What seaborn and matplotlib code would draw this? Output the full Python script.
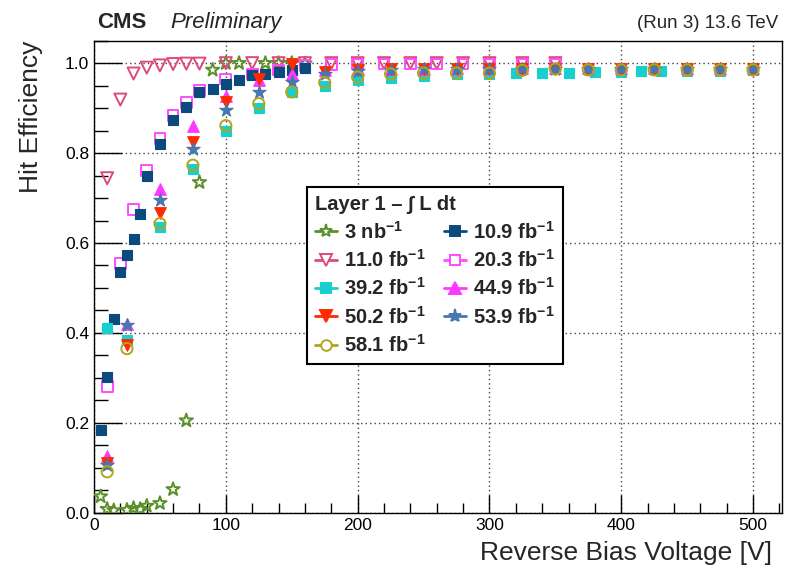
import numpy as np
import pandas as pd
import matplotlib
matplotlib.use("Agg")
import matplotlib.pyplot as plt
from matplotlib.lines import Line2D
from matplotlib.ticker import MultipleLocator, FormatStrFormatter
import seaborn as sns

# ---------------- data ----------------
v_3nb = [5, 10, 15, 25, 30, 35, 40, 50, 60, 70, 80, 90, 100, 110, 130, 140, 150, 160]
e_3nb = [0.036, 0.008, 0.005, 0.006, 0.010, 0.008, 0.015, 0.021, 0.052, 0.205, 0.735,
         0.985, 1.0, 1.0, 1.0, 1.0, 1.0, 0.999]

v_109 = [5, 10, 15, 20, 25, 30, 35, 40, 50, 60, 70, 80, 90, 100, 110, 120, 130, 140, 150, 160]
e_109 = [0.184, 0.302, 0.430, 0.536, 0.573, 0.608, 0.665, 0.750, 0.820, 0.873, 0.902,
         0.936, 0.943, 0.954, 0.963, 0.973, 0.976, 0.980, 0.985, 0.990]

v_110 = [10, 20, 30, 40, 50, 60, 70, 80, 100, 120, 140, 160, 180, 200, 220, 240, 260,
         280, 300, 325, 350]
e_110 = [0.744, 0.919, 0.977, 0.990, 0.995, 0.998, 0.999, 0.999, 1.0, 1.0, 1.0, 1.0,
         1.0, 1.0, 1.0, 1.0, 1.0, 1.0, 1.0, 1.0, 1.0]

v_203 = [10, 20, 30, 40, 50, 60, 70, 80, 100, 120, 140, 160, 180, 200, 220, 240, 260,
         280, 300, 325, 350]
e_203 = [0.280, 0.554, 0.675, 0.761, 0.832, 0.884, 0.913, 0.939, 0.965, 0.976, 0.985,
         0.995, 0.997, 0.998, 0.998, 0.998, 0.998, 0.998, 0.998, 0.998, 0.998]

v_392 = [10, 25, 50, 75, 100, 125, 150, 175, 200, 225, 250, 275, 300, 320, 340, 360,
         380, 400, 415, 430, 450, 475, 500]
e_392 = [0.410, 0.384, 0.635, 0.765, 0.850, 0.900, 0.935, 0.950, 0.963, 0.968, 0.972,
         0.975, 0.977, 0.979, 0.979, 0.979, 0.980, 0.981, 0.982, 0.982, 0.983, 0.983, 0.984]

v_std = [10, 25, 50, 75, 100, 125, 150, 175, 200, 225, 250, 275, 300, 325, 350, 375,
         400, 425, 450, 475, 500]
e_449 = [0.126, 0.420, 0.720, 0.861, 0.928, 0.962, 0.976, 0.985, 0.988, 0.988, 0.988,
         0.989, 0.989, 0.989, 0.989, 0.989, 0.990, 0.990, 0.990, 0.990, 0.990]
e_502 = [0.111, 0.373, 0.667, 0.824, 0.913, 0.965, 0.999, 0.980, 0.985, 0.987, 0.987,
         0.987, 0.988, 0.988, 0.988, 0.988, 0.988, 0.988, 0.988, 0.988, 0.988]
e_539 = [0.106, 0.417, 0.695, 0.810, 0.895, 0.935, 0.957, 0.975, 0.982, 0.985, 0.986,
         0.986, 0.987, 0.987, 0.987, 0.987, 0.987, 0.987, 0.987, 0.987, 0.987]
e_581 = [0.091, 0.365, 0.643, 0.773, 0.861, 0.910, 0.936, 0.957, 0.969, 0.976, 0.978,
         0.978, 0.978, 0.984, 0.987, 0.985, 0.985, 0.985, 0.985, 0.985, 0.985]

labels = ["3 nb", "10.9 fb", "11.0 fb", "20.3 fb", "39.2 fb", "44.9 fb",
          "50.2 fb", "53.9 fb", "58.1 fb"]

# ---------------- style ----------------
sns.set_style("white")
plt.rcParams["font.family"] = ["Liberation Sans", "DejaVu Sans"]
plt.rcParams["mathtext.fontset"] = "custom"
plt.rcParams["mathtext.rm"] = "Liberation Sans:bold"
plt.rcParams["mathtext.default"] = "rm"

fig = plt.figure(figsize=(7.94, 5.66), dpi=100)
ax = fig.add_axes([0.1184, 0.0942, 0.8666, 0.8339])

series = [
    # v, e, label, marker, color, filled, size
    (v_3nb, e_3nb, labels[0], "*", "#5a8f29", False, 100),
    (v_110, e_110, labels[2], "v", "#dc4a7e", False, 75),
    (v_203, e_203, labels[3], "s", "#ff4cff", False, 60),
    (v_109, e_109, labels[1], "s", "#0b4a7c", True, 60),
    (v_392, e_392, labels[4], "s", "#17cfcf", True, 60),
    (v_std, e_449, labels[5], "^", "#ff38ff", True, 70),
    (v_std, e_502, labels[6], "v", "#ff2a00", True, 70),
    (v_std, e_539, labels[7], "*", "#4677ad", True, 100),
    (v_std, e_581, labels[8], "o", "#b3a51a", False, 65),
]

handles = {}
for v, e, lab, m, c, filled, s in series:
    df = pd.DataFrame({"V": v, "eff": e})
    if filled:
        sns.scatterplot(data=df, x="V", y="eff", marker=m, s=s, color=c,
                        edgecolor=c, linewidth=0.8, ax=ax, zorder=3)
    else:
        sns.scatterplot(data=df, x="V", y="eff", marker=m, s=s, color=c,
                        facecolor="none", edgecolor=c, linewidth=1.4, ax=ax, zorder=3)
    handles[lab] = Line2D([], [], color=c, lw=2.0, marker=m,
                          markersize=np.sqrt(s) * 0.95,
                          markerfacecolor=(c if filled else "white"),
                          markeredgecolor=c, markeredgewidth=1.4)

ax.set_xlim(0, 522)
ax.set_ylim(0, 1.05)
ax.xaxis.set_major_locator(MultipleLocator(100))
ax.xaxis.set_minor_locator(MultipleLocator(20))
ax.yaxis.set_major_locator(MultipleLocator(0.2))
ax.yaxis.set_minor_locator(MultipleLocator(0.05))
ax.yaxis.set_major_formatter(FormatStrFormatter("%.1f"))
ax.tick_params(axis="both", which="both", direction="in", colors="black",
               labelsize=12.5, left=True, bottom=True, top=False, right=False)
ax.tick_params(axis="y", which="major", length=20, width=1)
ax.tick_params(axis="y", which="minor", length=10, width=1)
ax.tick_params(axis="x", which="major", length=13, width=1, pad=4)
ax.tick_params(axis="x", which="minor", length=7, width=1)
for sp in ax.spines.values():
    sp.set_color("black")
    sp.set_linewidth(1.0)
ax.grid(True, which="major", linestyle=(0, (1, 2.2)), color="#444444", linewidth=1.0)
ax.set_axisbelow(True)

ax.set_xlabel("Reverse Bias Voltage [V]", fontsize=19)
ax.xaxis.set_label_coords((772 - 94) / 688, -(553 - 512.7) / 472)
ax.xaxis.label.set_ha("right")
ax.xaxis.label.set_va("center")
ax.set_ylabel("Hit Efficiency", fontsize=19)
ax.yaxis.set_label_coords(-(94 - 31) / 688, 1.0)
ax.yaxis.label.set_ha("right")
ax.yaxis.label.set_va("center")

# legend
order = [labels[0], labels[2], labels[4], labels[6], labels[8],
         labels[1], labels[3], labels[5], labels[7]]
leg_labels = [lab + r"$^{-1}$" for lab in order]
leg = ax.legend([handles[l] for l in order], leg_labels, ncol=2,
                loc="upper left", bbox_to_anchor=(0.309, 0.690),
                title="Layer 1 \u2013 \u222b L dt", alignment="left",
                title_fontproperties={"weight": "bold", "size": 14.5},
                prop={"weight": "bold", "size": 14.5},
                frameon=True, fancybox=False, edgecolor="black",
                framealpha=1, handlelength=1.1, handletextpad=0.35,
                labelspacing=0.32, columnspacing=0.9, borderpad=0.4,
                borderaxespad=0)
leg.get_frame().set_linewidth(1.5)
leg.set_zorder(5)

# header texts
fig.text(97 / 794, 1 - 28 / 566, "CMS", fontsize=16, fontweight="bold", va="baseline")
fig.text(170 / 794, 1 - 28 / 566, "Preliminary", fontsize=16, style="italic", va="baseline")
fig.text(778 / 794, 1 - 28 / 566, "(Run 3) 13.6 TeV", fontsize=13.5, ha="right", va="baseline")

fig.savefig("out.png", dpi=100)
